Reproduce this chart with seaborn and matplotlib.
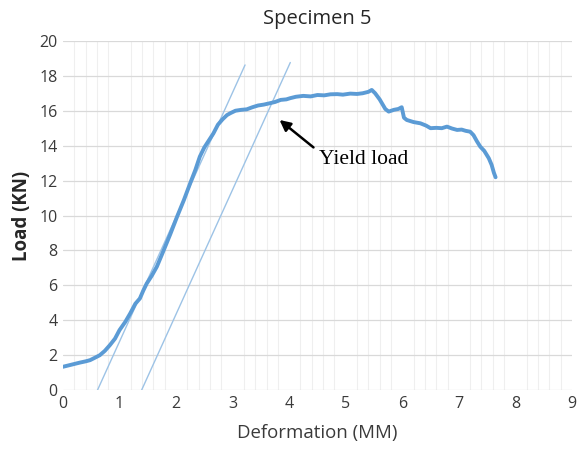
import matplotlib
matplotlib.use("Agg")
import matplotlib.pyplot as plt
import seaborn as sns
import pandas as pd
import numpy as np

# ---- data ----
deformation = [0.00, 0.10, 0.20, 0.30, 0.40, 0.48, 0.56, 0.65, 0.74, 0.83, 0.92, 1.00,
               1.10, 1.19, 1.28, 1.36, 1.42, 1.48, 1.57, 1.66, 1.78, 1.90, 2.02, 2.14,
               2.25, 2.34, 2.42, 2.50, 2.58, 2.66, 2.74, 2.82, 2.90, 2.96, 3.05, 3.15,
               3.25, 3.35, 3.45, 3.55, 3.66, 3.75, 3.85, 3.95, 4.02, 4.12, 4.25, 4.38,
               4.50, 4.62, 4.73, 4.85, 4.95, 5.08, 5.20, 5.30, 5.40, 5.46, 5.52, 5.60,
               5.70, 5.76, 5.85, 5.93, 5.99, 6.03, 6.08, 6.20, 6.32, 6.42, 6.50, 6.60,
               6.70, 6.79, 6.88, 6.97, 7.05, 7.12, 7.20, 7.26, 7.32, 7.38, 7.45, 7.53,
               7.58, 7.62, 7.65]
load = [1.34, 1.42, 1.50, 1.58, 1.65, 1.72, 1.85, 2.00, 2.25, 2.58, 2.95, 3.44,
        3.90, 4.40, 4.95, 5.25, 5.70, 6.10, 6.55, 7.07, 8.00, 8.95, 9.95, 10.90,
        11.85, 12.60, 13.37, 13.90, 14.30, 14.70, 15.20, 15.50, 15.75, 15.86, 16.00, 16.05,
        16.08, 16.20, 16.30, 16.35, 16.43, 16.50, 16.62, 16.65, 16.72, 16.80, 16.85, 16.82,
        16.90, 16.88, 16.94, 16.95, 16.92, 16.98, 16.96, 17.00, 17.08, 17.19, 17.00, 16.65,
        16.10, 15.95, 16.05, 16.10, 16.20, 15.60, 15.47, 15.35, 15.28, 15.15, 15.00, 15.02,
        15.00, 15.09, 14.98, 14.90, 14.92, 14.85, 14.80, 14.60, 14.25, 13.94, 13.70, 13.28,
        12.90, 12.45, 12.19]

tangent1_x = [0.61, 3.22]
tangent1_y = [0.00, 18.62]
tangent2_x = [1.39, 4.02]
tangent2_y = [0.00, 18.76]

title = "Specimen 5"
xlabel = "Deformation (MM)"
ylabel = "Load (KN)"
annot_text = "Yield load"
arrow_head = (3.83, 15.47)
arrow_tail = (4.43, 13.90)
annot_text_pos = (4.52, 13.18)

xticks = list(range(0, 10))
yticks = list(range(0, 21, 2))

# ---- plotting ----
sns.set_theme(style="white")
plt.rcParams['font.family'] = ['Open Sans', 'DejaVu Sans']

fig = plt.figure(figsize=(5.83, 4.49), dpi=100)
ax = fig.add_axes([0.108, 0.131, 0.873, 0.778])

curve = pd.DataFrame({"x": deformation, "y": load})
t1 = pd.DataFrame({"x": tangent1_x, "y": tangent1_y})
t2 = pd.DataFrame({"x": tangent2_x, "y": tangent2_y})

sns.lineplot(data=t1, x="x", y="y", ax=ax, color="#9dc3e6", linewidth=1.0, sort=False)
sns.lineplot(data=t2, x="x", y="y", ax=ax, color="#9dc3e6", linewidth=1.0, sort=False)
sns.lineplot(data=curve, x="x", y="y", ax=ax, color="#5b9bd5", linewidth=2.8, sort=False)

ax.set_xlim(0, 9)
ax.set_ylim(0, 20)
ax.set_xticks(xticks)
ax.set_yticks(yticks)
ax.set_xticks(np.arange(0, 9.01, 0.2), minor=True)
ax.grid(True, which="major", axis="y", color="#d9d9d9", linewidth=0.9)
ax.grid(True, which="minor", axis="x", color="#efefef", linewidth=0.8)
ax.set_axisbelow(True)
for s in ax.spines.values():
    s.set_visible(False)
ax.tick_params(axis="both", which="both", length=0, labelsize=11.5, colors="#3a3a3a", pad=4)

ax.set_title(title, fontsize=14.5, color="#262626", pad=12)
ax.set_xlabel(xlabel, fontsize=13.4, color="#3a3a3a", labelpad=9)
ax.set_ylabel(ylabel, fontsize=13.5, color="#262626", fontweight="bold", labelpad=5)

ax.annotate("", xy=arrow_head, xytext=arrow_tail,
            arrowprops=dict(arrowstyle="-|>", color="black", lw=1.8,
                            mutation_scale=16, shrinkA=0, shrinkB=0))
ax.text(annot_text_pos[0], annot_text_pos[1], annot_text, fontsize=15.5,
        family=['Liberation Serif', 'DejaVu Serif'], color="black",
        va="center", ha="left")

fig.savefig("out.png", dpi=100)
